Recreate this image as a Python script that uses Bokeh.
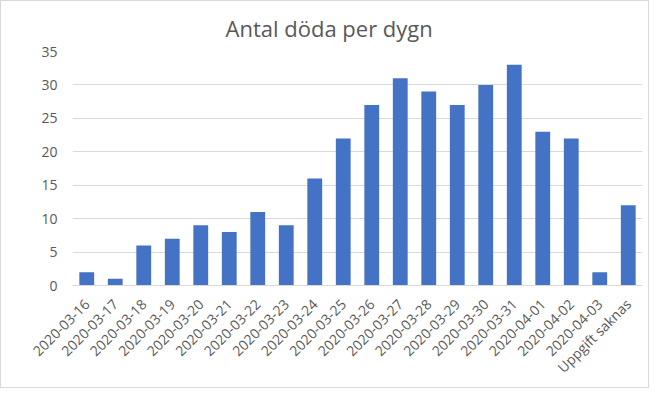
import math
from bokeh.plotting import figure
from bokeh.models import FactorRange, Range1d, ColumnDataSource, FixedTicker
from bokeh.embed import file_html
from bokeh.resources import INLINE

categories = ["2020-03-16", "2020-03-17", "2020-03-18", "2020-03-19", "2020-03-20",
              "2020-03-21", "2020-03-22", "2020-03-23", "2020-03-24", "2020-03-25",
              "2020-03-26", "2020-03-27", "2020-03-28", "2020-03-29", "2020-03-30",
              "2020-03-31", "2020-04-01", "2020-04-02", "2020-04-03", "Uppgift saknas"]
deaths = [2, 1, 6, 7, 9, 8, 11, 9, 16, 22, 27, 31, 29, 27, 30, 33, 23, 22, 2, 12]
y_ticks = [0, 5, 10, 15, 20, 25, 30, 35]
title_text = "Antal döda per dygn"

FONT = "Open Sans"
GREY = "#595959"

src = ColumnDataSource(data=dict(cat=categories, val=deaths))

p = figure(width=649, height=388, output_backend="svg", toolbar_location=None,
           x_range=FactorRange(*categories, range_padding=0),
           y_range=Range1d(0, 35),
           min_border_left=71, min_border_right=8, min_border_top=50, min_border_bottom=104)
p.styles = {"border": "1px solid #d9d9d9", "box-sizing": "border-box"}

p.title.text = title_text
p.title.align = "left"
p.title.offset = 153
p.title.vertical_align = "top"
p.title.text_line_height = 1.0
p.title.text_font = FONT
p.title.text_font_size = "22px"
p.title.text_font_style = "normal"
p.title.text_color = GREY
p.title.standoff = 14

p.vbar(x="cat", top="val", width=0.52, source=src, fill_color="#4472C4", line_color=None)

p.outline_line_color = None
p.xgrid.grid_line_color = None
p.ygrid.grid_line_color = "#d9d9d9"
p.ygrid.grid_line_width = 1

p.yaxis.ticker = FixedTicker(ticks=y_ticks)
p.yaxis.axis_line_color = None
p.yaxis.major_tick_line_color = None
p.yaxis.minor_tick_line_color = None
p.yaxis.major_label_text_font = FONT
p.yaxis.major_label_text_font_size = "14px"
p.yaxis.major_label_text_color = GREY
p.yaxis.major_label_standoff = 9

p.xaxis.axis_line_color = "#d9d9d9"
p.xaxis.axis_line_width = 1
p.xaxis.major_tick_line_color = None
p.xaxis.minor_tick_line_color = None
p.xaxis.major_label_orientation = math.pi / 4
p.xaxis.major_label_text_font = FONT
p.xaxis.major_label_text_font_size = "14px"
p.xaxis.major_label_text_color = GREY
p.xaxis.major_label_standoff = 10

open("out.html", "w").write(file_html(p, INLINE))
